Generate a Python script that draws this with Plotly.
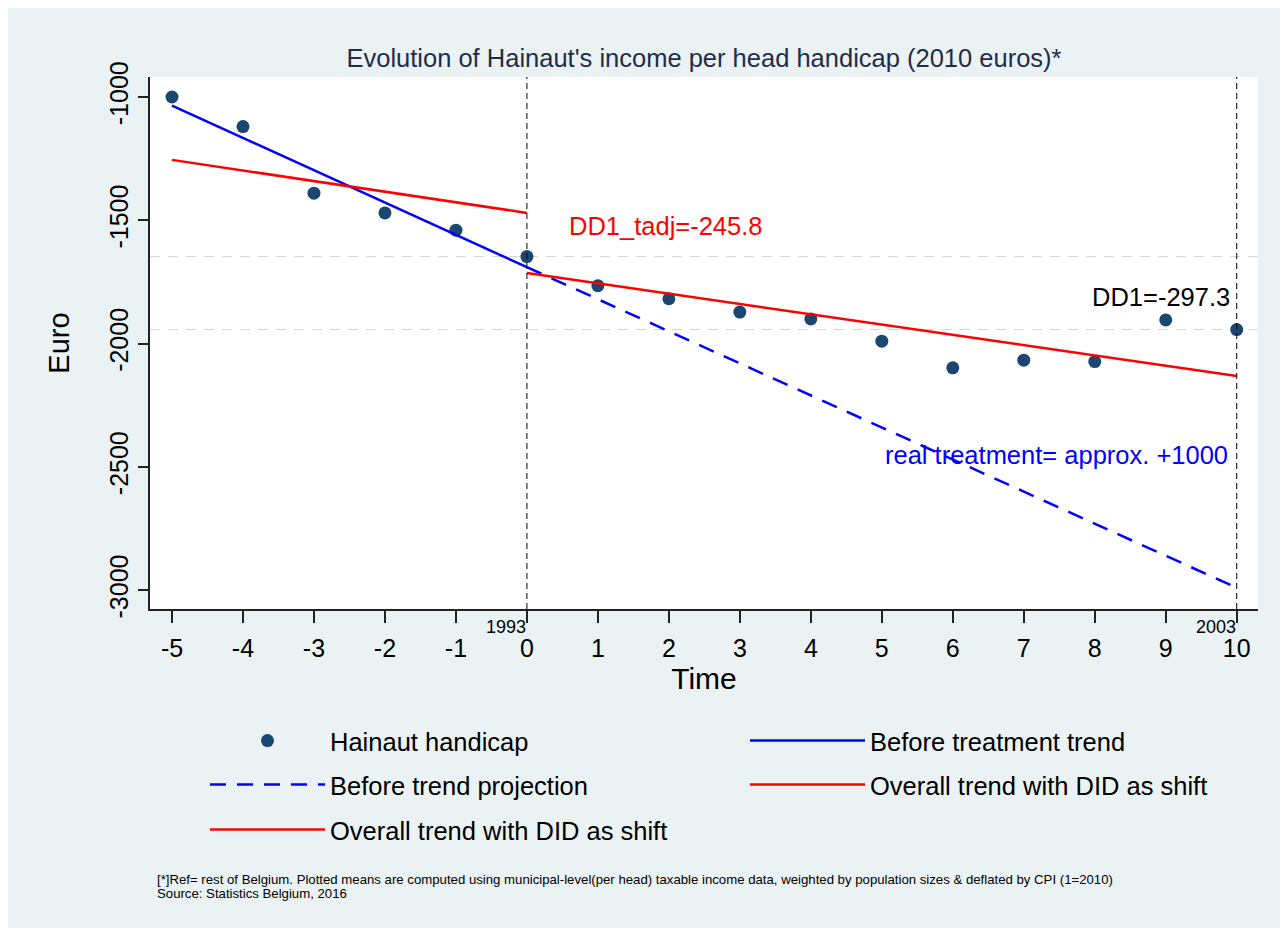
import plotly.graph_objects as go

FONT = "Liberation Sans, Arial, sans-serif"

# ---- data ----
time = list(range(-5, 11))
handicap = [-1000, -1120, -1390, -1470, -1540, -1647, -1765, -1818,
            -1872, -1900, -1990, -2098, -2067, -2073, -1904, -1943]

pre_x = [-5, 0]
pre_y = [-1035, -1690]
proj_x = [0, 10]
proj_y = [-1690, -2990]
red_pre_x = [-5, 0]
red_pre_y = [-1255, -1470]
red_post_x = [0, 10]
red_post_y = [-1714, -2131]

y_ticks = [-1000, -1500, -2000, -2500, -3000]
x_ticks = list(range(-5, 11))
vline_x = [0, 10]
vline_labels = ["1993", "2003"]
ref_levels = [handicap[5], handicap[-1]]

names = ["Hainaut handicap", "Before treatment trend", "Before trend projection",
         "Overall trend with DID as shift", "Overall trend with DID as shift"]

# page offset of the figure (body margin)
OFF = 8
W, H = 1274, 920
ML, MR, MT, MB = 142, 24, 69, 319
PW, PH = W - ML - MR, H - MT - MB

fig = go.Figure()

fig.add_trace(go.Scatter(x=time, y=handicap, mode="markers", name=names[0],
                         marker=dict(size=13, color="#1a476f"), legend="legend"))
fig.add_trace(go.Scatter(x=pre_x, y=pre_y, mode="lines", name=names[1],
                         line=dict(color="#0000ff", width=2.5), legend="legend2"))
fig.add_trace(go.Scatter(x=proj_x, y=proj_y, mode="lines", name=names[2],
                         line=dict(color="#0000ff", width=2.5, dash="16px,11px"), legend="legend3"))
fig.add_trace(go.Scatter(x=red_pre_x, y=red_pre_y, mode="lines", name=names[3],
                         line=dict(color="#ff0000", width=2.5), legend="legend4"))
fig.add_trace(go.Scatter(x=red_post_x, y=red_post_y, mode="lines", name=names[4],
                         line=dict(color="#ff0000", width=2.5), legend="legend5"))

# reference horizontal dashed lines
for lv in ref_levels:
    fig.add_shape(type="line", xref="paper", x0=0, x1=1, yref="y", y0=lv, y1=lv,
                  line=dict(color="#d6d6d6", width=1, dash="10px,8px"), layer="below")
# vertical dashed lines
for vx, lab in zip(vline_x, vline_labels):
    fig.add_shape(type="line", xref="x", x0=vx, x1=vx, yref="paper", y0=0, y1=1,
                  line=dict(color="black", width=1, dash="6px,4px"))
    fig.add_annotation(x=vx, y=0, xref="x", yref="paper", text=lab, showarrow=False,
                       xanchor="right", yanchor="top", yshift=-6, xshift=1,
                       font=dict(size=18, color="black", family=FONT))

# text annotations
ANN = 25.5
fig.add_annotation(x=1.955, y=-1523, text="DD1_tadj=-245.8", showarrow=False,
                   xanchor="center", yanchor="middle", font=dict(size=ANN, color="#ff0000", family=FONT))
fig.add_annotation(x=9.93, y=-1811, text="DD1=-297.3", showarrow=False,
                   xanchor="right", yanchor="middle", font=dict(size=ANN, color="black", family=FONT))
fig.add_annotation(x=5.02, y=-2452, text="real treatment= approx. +1000", showarrow=False,
                   xanchor="left", yanchor="middle", font=dict(size=ANN, color="#0000ff", family=FONT))


def px_x(page_x):
    return (page_x - OFF - ML) / PW


def px_y(page_y):
    return (MT + PH - (page_y - OFF)) / PH


# footnotes
fig.add_annotation(xref="paper", yref="paper", x=px_x(156), y=px_y(879),
                   text="[*]Ref= rest of Belgium. Plotted means are computed using municipal-level(per head) taxable income data, weighted by population sizes & deflated by CPI (1=2010)",
                   showarrow=False, xanchor="left", yanchor="middle", borderpad=0,
                   font=dict(size=13.2, color="black", family=FONT))
fig.add_annotation(xref="paper", yref="paper", x=px_x(156), y=px_y(894),
                   text="Source: Statistics Belgium, 2016",
                   showarrow=False, xanchor="left", yanchor="middle", borderpad=0,
                   font=dict(size=13.2, color="black", family=FONT))


def leg(page_x, page_y):
    return dict(x=(page_x - OFF) / W, y=1 - (page_y - OFF) / H, xref="container", yref="container",
                xanchor="left", yanchor="middle", bgcolor="rgba(0,0,0,0)",
                font=dict(size=25.5, color="black", family=FONT), itemwidth=115,
                orientation="h", borderwidth=0)

fig.update_layout(
    width=W, height=H,
    margin=dict(l=ML, r=MR, t=MT, b=MB),
    paper_bgcolor="#eaf2f3",
    plot_bgcolor="white",
    font=dict(family=FONT, color="black"),
    title=dict(text="Evolution of Hainaut's income per head handicap (2010 euros)*",
               x=0.5, xref="paper", xanchor="center", y=1 - (58 - OFF) / H, yanchor="middle",
               font=dict(size=25.5, color="#1f2d4d", family=FONT)),
    showlegend=True,
    legend=leg(205, 741),
    legend2=leg(745, 741),
    legend3=leg(205, 785),
    legend4=leg(745, 785),
    legend5=leg(205, 830),
    xaxis=dict(range=[-5.31, 10.30], tickvals=x_ticks, ticktext=[str(v) for v in x_ticks],
               showgrid=False, zeroline=False, showline=True, linecolor="#222", linewidth=1.5,
               ticks="outside", ticklen=12, tickcolor="#222", tickwidth=1.5,
               tickfont=dict(size=25, color="black", family=FONT),
               ticklabelstandoff=4,
               title=dict(text="Time", font=dict(size=30, color="black", family=FONT), standoff=1)),
    yaxis=dict(range=[-3076, -919], tickvals=y_ticks, ticktext=[str(v) for v in y_ticks],
               showgrid=False, zeroline=False, showline=True, linecolor="#222", linewidth=1.5,
               ticks="outside", ticklen=10, tickcolor="#222", tickwidth=1.5, tickangle=-90,
               tickfont=dict(size=25, color="black", family=FONT),
               title=dict(text="Euro", font=dict(size=29, color="black", family=FONT), standoff=27)),
)

fig.write_html("out.html")
